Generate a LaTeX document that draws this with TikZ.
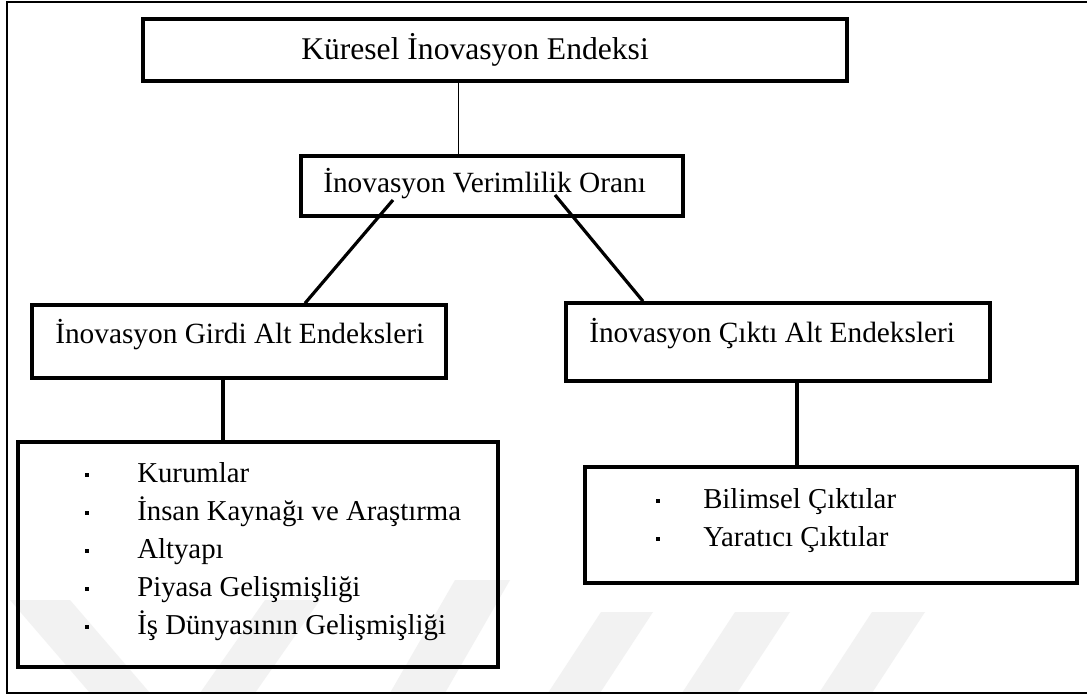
\documentclass[tikz,border=0pt]{standalone}
\usepackage{fontspec}
\setmainfont{Liberation Serif}
\begin{document}
\begin{tikzpicture}[x=0.75pt, y=-0.75pt,
  box/.style={draw=black, line width=2.6pt, rectangle, inner sep=0pt},
  lbl/.style={anchor=base west, inner sep=0pt, font=\fontsize{22pt}{26pt}\selectfont},
  item/.style={anchor=base west, inner sep=0pt, font=\fontsize{21.6pt}{26pt}\selectfont},
  bul/.style={fill=black, inner sep=0pt, minimum size=2.5pt, rectangle},
  link/.style={line width=2.4pt},
  stem/.style={line width=3pt},
  wmark/.style={fill=black!5, draw=none}]
\useasboundingbox (0,0) rectangle (1087,695);
\fill[white] (0,0) rectangle (1087,695);

% faint background stripes
\fill[wmark] (601,612) -- (653,612) -- (600,693) -- (548,693) -- cycle;
\fill[wmark] (735,612) -- (790,612) -- (737,693) -- (682,693) -- cycle;
\fill[wmark] (872,612) -- (925,612) -- (872,693) -- (819,693) -- cycle;
\fill[wmark] (10,600) -- (70,600) -- (150,693) -- (90,693) -- cycle;
\fill[wmark] (265,600) -- (320,600) -- (255,693) -- (200,693) -- cycle;
\fill[wmark] (455,580) -- (510,580) -- (445,693) -- (390,693) -- cycle;

% outer frame (open on the right)
\draw[line width=1.5pt] (1095,2) -- (7,2) -- (7,693) -- (1095,693);

% boxes
\node[box, minimum width=528pt, minimum height=46.5pt] (top) at (495,50) {};
\node[box, minimum width=286.5pt, minimum height=45pt] (mid) at (492,186) {};
\node[box, minimum width=310.5pt, minimum height=54.75pt] (inp) at (239,341.5) {};
\node[box, minimum width=318pt, minimum height=58.5pt] (out) at (778,342) {};
\node[box, minimum width=360pt, minimum height=168.75pt] (inl) at (258,554.5) {};
\node[box, minimum width=369pt, minimum height=87pt] (outl) at (831,525) {};

% box titles
\node[lbl, font=\fontsize{23.7pt}{28pt}\selectfont] (toptxt) at (301,60) {Küresel İnovasyon Endeksi};
\node[lbl] (midtxt) at (323,193) {İnovasyon Verimlilik Oranı};
\node[lbl] (inptxt) at (55,343) {İnovasyon Girdi Alt Endeksleri};
\node[lbl] (outtxt) at (589,342) {İnovasyon Çıktı Alt Endeksleri};

% input sub-indices list
\node[bul] (ib1) at (87,475) {};
\node[bul] (ib2) at (87,513) {};
\node[bul] (ib3) at (87,551) {};
\node[bul] (ib4) at (87,589) {};
\node[bul] (ib5) at (87,627) {};
\node[item] (it1) at (137,482) {Kurumlar};
\node[item] (it2) at (137,520) {İnsan Kaynağı ve Araştırma};
\node[item] (it3) at (137,558) {Altyapı};
\node[item] (it4) at (137,596) {Piyasa Gelişmişliği};
\node[item] (it5) at (137,634) {İş Dünyasının Gelişmişliği};

% output sub-indices list
\node[bul] (ob1) at (658,501) {};
\node[bul] (ob2) at (658,539) {};
\node[item] (ot1) at (703,508) {Bilimsel Çıktılar};
\node[item] (ot2) at (703,546) {Yaratıcı Çıktılar};

% connectors
\draw[line width=0.75pt] (top.south -| 458,0) -- (mid.north -| 458,0);
\draw[link] ([xshift=-74.25pt, yshift=-10.5pt]mid.center) -- (inp.north -| 305,0);
\draw[link] ([xshift=47.25pt, yshift=-6.75pt]mid.center) -- (out.north -| 643,0);
\draw[stem] (inp.south -| 223,0) -- (inl.north -| 223,0);
\draw[stem] (out.south -| 797,0) -- (outl.north -| 797,0);
\end{tikzpicture}
\end{document}
